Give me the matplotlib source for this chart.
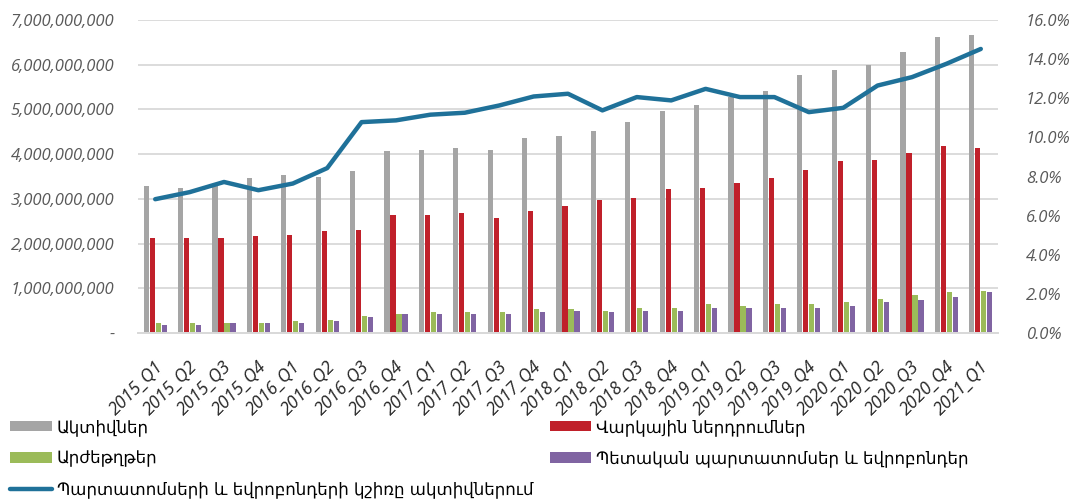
import matplotlib
matplotlib.use('Agg')
import matplotlib.pyplot as plt
import matplotlib.ticker as mticker
import matplotlib.transforms as mtransforms
import numpy as np

quarters = ['2015_Q1', '2015_Q2', '2015_Q3', '2015_Q4', '2016_Q1', '2016_Q2', '2016_Q3',
            '2016_Q4', '2017_Q1', '2017_Q2', '2017_Q3', '2017_Q4', '2018_Q1', '2018_Q2',
            '2018_Q3', '2018_Q4', '2019_Q1', '2019_Q2', '2019_Q3', '2019_Q4', '2020_Q1',
            '2020_Q2', '2020_Q3', '2020_Q4', '2021_Q1']

# billions of AMD
assets = [3.28, 3.24, 3.33, 3.47, 3.54, 3.50, 3.62, 4.07, 4.10, 4.14, 4.10, 4.36, 4.40,
          4.51, 4.73, 4.96, 5.10, 5.27, 5.41, 5.77, 5.88, 6.00, 6.29, 6.63, 6.67]
loans = [2.13, 2.13, 2.13, 2.17, 2.20, 2.27, 2.31, 2.65, 2.65, 2.69, 2.58, 2.72, 2.83,
         2.98, 3.02, 3.21, 3.25, 3.36, 3.47, 3.65, 3.84, 3.87, 4.03, 4.18, 4.14]
securities = [0.23, 0.23, 0.23, 0.23, 0.26, 0.30, 0.38, 0.42, 0.46, 0.46, 0.46, 0.53, 0.53,
              0.50, 0.57, 0.57, 0.65, 0.61, 0.65, 0.65, 0.69, 0.76, 0.84, 0.91, 0.95]
bonds = [0.19, 0.19, 0.23, 0.23, 0.23, 0.27, 0.35, 0.42, 0.42, 0.42, 0.42, 0.46, 0.50,
         0.46, 0.50, 0.50, 0.57, 0.57, 0.57, 0.57, 0.61, 0.69, 0.73, 0.80, 0.91]
# percent
bond_share = [6.84, 7.20, 7.72, 7.30, 7.64, 8.43, 10.78, 10.87, 11.16, 11.26, 11.63, 12.09,
              12.23, 11.38, 12.06, 11.89, 12.48, 12.06, 12.06, 11.29, 11.51, 12.65, 13.08,
              13.76, 14.52]

series_names = ['Ակտիվներ', 'Վարկային ներդրումներ', 'Արժեթղթեր',
                'Պետական պարտատոմսեր և եվրոբոնդեր']
line_name = 'Պարտատոմսերի և եվրոբոնդերի կշիռը ակտիվներում'
colors = ['#a5a5a5', '#c0202a', '#9bbb59', '#8064a2']
line_color = '#1f7199'

tick_font = dict(family='Open Sans', style='italic', size=12)

fig = plt.figure(figsize=(10.69, 5.03), dpi=100)
ax = fig.add_axes([138/1069, 1 - 333/503, 860/1069, 313/503])
ax2 = ax.twinx()

x = np.arange(len(quarters))
w = 0.15
step = 0.175
bars = []
for i, vals in enumerate([assets, loans, securities, bonds]):
    b = ax.bar(x + (i - 1.5) * step, np.array(vals) * 1e9, width=w, color=colors[i],
               label=series_names[i], zorder=2)
    bars.append(b)

ln, = ax2.plot(x, bond_share, color=line_color, lw=3.2, solid_capstyle='round',
               label=line_name, zorder=3)

ax.set_xlim(-0.5, len(quarters) - 0.5)
ax.set_ylim(0, 7e9)
ax2.set_ylim(0, 16)
ax.yaxis.set_major_locator(mticker.MultipleLocator(1e9))
ax2.yaxis.set_major_locator(mticker.MultipleLocator(2))
ax.yaxis.set_major_formatter(mticker.FuncFormatter(lambda v, p: '-' if v == 0 else f'{v:,.0f}'))
ax2.yaxis.set_major_formatter(mticker.FuncFormatter(lambda v, p: f'{v:.1f}%'))

ax.grid(axis='y', color='#d9d9d9', lw=1.3, zorder=0)
ax.set_axisbelow(True)
for a in (ax, ax2):
    for s in ['top', 'left', 'right']:
        a.spines[s].set_visible(False)
    a.spines['bottom'].set_color('#d9d9d9')
    a.spines['bottom'].set_linewidth(1.3)
    a.tick_params(length=0)

ax.tick_params(axis='y', pad=17, colors='#595959')
ax2.tick_params(axis='y', pad=20, colors='#595959')
for t in ax.get_yticklabels() + ax2.get_yticklabels():
    t.set_fontproperties(matplotlib.font_manager.FontProperties(**tick_font))

ax.set_xticks(x)
ax.set_xticklabels(quarters, rotation=45, ha='right', va='center',
                   rotation_mode='anchor', color='#262626',
                   family='Open Sans', style='italic', size=12.8)
ax.tick_params(axis='x', pad=22)
shift = mtransforms.ScaledTranslation(5/100, 0, fig.dpi_scale_trans)
for t in ax.get_xticklabels():
    t.set_transform(t.get_transform() + shift)

handles = [bars[0], bars[2], ln, bars[1], bars[3]]
labels = [series_names[0], series_names[2], line_name, series_names[1], series_names[3]]
fig.legend(handles, labels, loc='upper left', bbox_to_anchor=(10/1069, 1 - 418/503),
           ncol=2, frameon=False, prop=dict(family='DejaVu Sans', size=12),
           handlelength=2.5, handleheight=0.6, handletextpad=0.3,
           labelspacing=0.8, columnspacing=1.0, borderpad=0, borderaxespad=0)

fig.savefig('out.png', dpi=100)
